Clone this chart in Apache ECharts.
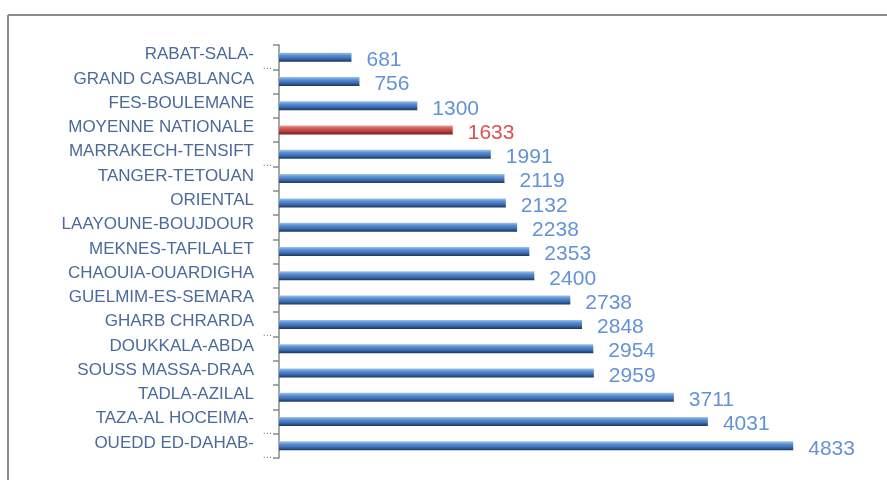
<!DOCTYPE html>
<html>
<head>
<meta charset="utf-8">
<script src="https://cdn.jsdelivr.net/npm/echarts@6/dist/echarts.min.js"></script>
<style>
  html, body { margin: 0; padding: 0; background: #fff; }
  #container { width: 887px; height: 480px; }
</style>
</head>
<body>
<div id="container"></div>
<script>
var regions = [
  "RABAT-SALA-", "GRAND CASABLANCA", "FES-BOULEMANE", "MOYENNE NATIONALE",
  "MARRAKECH-TENSIFT", "TANGER-TETOUAN", "ORIENTAL", "LAAYOUNE-BOUJDOUR",
  "MEKNES-TAFILALET", "CHAOUIA-OUARDIGHA", "GUELMIM-ES-SEMARA", "GHARB CHRARDA",
  "DOUKKALA-ABDA", "SOUSS MASSA-DRAA", "TADLA-AZILAL", "TAZA-AL HOCEIMA-",
  "OUEDD ED-DAHAB-"
];
var values = [681, 756, 1300, 1633, 1991, 2119, 2132, 2238, 2353, 2400, 2738, 2848, 2954, 2959, 3711, 4031, 4833];
// labels that are cut in the original (shown with "...")
var truncated = ["RABAT-SALA-", "MARRAKECH-TENSIFT", "GHARB CHRARDA", "TAZA-AL HOCEIMA-", "OUEDD ED-DAHAB-"];
var highlight = "MOYENNE NATIONALE";

var blueBar = new echarts.graphic.LinearGradient(0, 0, 0, 1, [
  { offset: 0, color: "#a3c2ea" },
  { offset: 0.3, color: "#5b90d6" },
  { offset: 0.65, color: "#3c6dae" },
  { offset: 1, color: "#1b3560" }
]);
var redBar = new echarts.graphic.LinearGradient(0, 0, 0, 1, [
  { offset: 0, color: "#eaa0a0" },
  { offset: 0.3, color: "#d65a5a" },
  { offset: 0.65, color: "#b83c3c" },
  { offset: 1, color: "#6e1c1c" }
]);

var seriesData = values.map(function (v, i) {
  var isRed = regions[i] == highlight;
  return {
    value: v,
    itemStyle: { color: isRed ? redBar : blueBar },
    label: { color: isRed ? "#d9534f" : "#6393d6" }
  };
});

var myChart = echarts.init(document.getElementById("container"));
myChart.setOption({
  animation: false,
  grid: { left: 279, right: 76, top: 45, bottom: 22, containLabel: false },
  graphic: [
    { type: "line", shape: { x1: 8, y1: 15, x2: 887, y2: 15 }, style: { stroke: "#8c8c8c", lineWidth: 2 } },
    { type: "line", shape: { x1: 8, y1: 15, x2: 8, y2: 480 }, style: { stroke: "#8c8c8c", lineWidth: 2 } }
  ],
  xAxis: {
    type: "value",
    min: 0,
    max: 5000,
    show: false,
    splitLine: { show: false }
  },
  yAxis: {
    type: "category",
    inverse: true,
    data: regions,
    axisLine: { lineStyle: { color: "#8a8a8a", width: 1.5 } },
    axisTick: { show: true, length: 6, lineStyle: { color: "#8a8a8a", width: 1.5 } },
    axisLabel: {
      margin: 7,
      interval: 0,
      hideOverlap: false,
      formatter: function (name) {
        if (truncated.indexOf(name) >= 0) return "{b|" + name + "}\n{d|...}";
        return "{a|" + name + "}";
      },
      rich: {
        a: {
          fontFamily: "Liberation Sans",
          fontSize: 17,
          color: "#4a6a9b",
          padding: [0, 18, 5, 0],
          lineHeight: 18
        },
        b: {
          fontFamily: "Liberation Sans",
          fontSize: 17,
          color: "#4a6a9b",
          padding: [0, 18, 0, 0],
          lineHeight: 18
        },
        d: {
          fontFamily: "Liberation Sans",
          fontSize: 11,
          color: "#7a8aa5",
          lineHeight: 6,
          align: "right"
        }
      }
    }
  },
  series: [
    {
      type: "bar",
      barWidth: 9,
      data: seriesData,
      label: {
        show: true,
        position: "right",
        distance: 15,
        offset: [0, 3],
        fontFamily: "Liberation Sans",
        fontSize: 21
      }
    }
  ]
});
</script>
</body>
</html>
